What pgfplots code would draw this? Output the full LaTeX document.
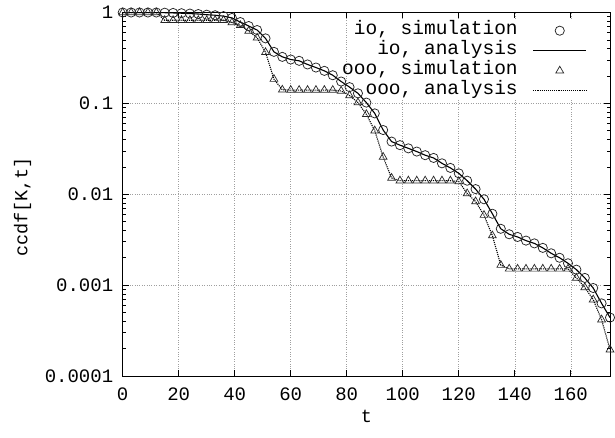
\documentclass[border=0pt]{standalone}
\usepackage{fontspec}
\setmainfont{Liberation Mono}
\usepackage{pgfplots}
\usepackage{pgfplotstable}
\pgfplotsset{compat=1.18}
\pgfplotstableread{
t io ooo
0 1.0 1.0
3 1.0 1.0
6 1.0 1.0
9 1.0 1.0
12 1.0 1.0
15 0.995 0.822
18 0.989 0.822
21 0.982 0.822
24 0.973 0.822
27 0.962 0.822
30 0.946 0.822
33 0.933 0.822
36 0.912 0.822
39 0.871 0.776
42 0.785 0.723
45 0.710 0.625
48 0.641 0.527
51 0.519 0.365
54 0.369 0.185
57 0.325 0.141
60 0.304 0.140
63 0.294 0.140
66 0.268 0.140
69 0.248 0.140
72 0.228 0.140
75 0.204 0.140
78 0.174 0.137
81 0.151 0.122
84 0.129 0.102
87 0.102 0.0759
90 0.0776 0.0501
93 0.0509 0.0257
96 0.0380 0.0151
99 0.0347 0.0141
102 0.0320 0.0141
105 0.0295 0.0141
108 0.0269 0.0141
111 0.0251 0.0141
114 0.0219 0.0141
117 0.0195 0.0141
120 0.0170 0.0138
123 0.0141 0.0102
126 0.0114 0.00832
129 0.00881 0.00589
132 0.00610 0.00351
135 0.00417 0.00166
138 0.00363 0.00151
141 0.00339 0.00151
144 0.00309 0.00151
147 0.00288 0.00151
150 0.00257 0.00151
153 0.00224 0.00151
156 0.00200 0.00151
159 0.00174 0.00151
162 0.00148 0.00120
165 0.00120 0.000944
168 0.00093 0.000692
171 0.00063 0.000417
174 0.00044 0.000195
}\datatable
\begin{document}
\begin{tikzpicture}
\path[use as bounding box] (-122.7pt,-61pt) rectangle (492.3pt,376pt);
\begin{axis}[
  at={(0pt,0pt)}, anchor=south west,
  scale only axis, width=487.3pt, height=363.5pt,
  xmin=0, xmax=174, ymin=1e-4, ymax=1, ymode=log,
  xtick={0,20,...,160},
  ytick={1,0.1,0.01,0.001,0.0001},
  yticklabels={1,0.1,0.01,0.001,0.0001},
  minor ytick={2e-4,3e-4,4e-4,5e-4,6e-4,7e-4,8e-4,9e-4,
    2e-3,3e-3,4e-3,5e-3,6e-3,7e-3,8e-3,9e-3,
    2e-2,3e-2,4e-2,5e-2,6e-2,7e-2,8e-2,9e-2,
    0.2,0.3,0.4,0.5,0.6,0.7,0.8,0.9},
  /pgf/number format/assume math mode=true,
  tick label style={font=\fontsize{19}{21}\selectfont},
  yticklabel style={xshift=-6pt},
  xticklabel style={yshift=-8.5pt},
  label style={font=\fontsize{18.5}{20}\selectfont},
  xlabel={t},
  ylabel={ccdf[K,t]},
  xlabel style={at={(axis description cs:0.5,0)}, anchor=north, yshift=-31pt},
  ylabel style={at={(axis description cs:0,0.465)}, anchor=south, yshift=88pt},
  tick align=inside,
  major tick length=6pt, minor tick length=3.5pt,
  every tick/.style={black, line width=0.6pt},
  axis line style={line width=1pt},
  grid=major,
  grid style={dotted, gray!75, line width=0.55pt},
  legend plot pos=right,
  legend cell align=right,
  legend image code/.code={\draw[mark repeat=2,mark phase=2,#1] plot coordinates {(0pt,0pt) (26.5pt,0pt) (53pt,0pt)};},
  legend style={at={(rel axis cs:1,1)}, anchor=north east, xshift=-20pt, yshift=-6pt,
    draw=none, fill=none, font=\fontsize{19.5}{20}\selectfont,
    nodes={inner sep=0pt, text height=14pt, text depth=6pt},
    /tikz/every odd column/.append style={column sep=15pt}},
]
\fill[white] (axis cs:83,0.83) rectangle (axis cs:171,0.115);
\addplot[only marks, mark=o, mark size=4.6pt, mark options={black!85, line width=0.75pt}] table[x=t,y=io] {\datatable};
\addlegendentry{io, simulation}
\addplot[black, line width=1.1pt, no marks] table[x=t,y=io] {\datatable};
\addlegendentry{io, analysis}
\addplot[only marks, mark=triangle, mark size=4.5pt, mark options={black!85, line width=0.7pt}] table[x=t,y=ooo] {\datatable};
\addlegendentry{ooo, simulation}
\addplot[black, line width=1.1pt, densely dotted, no marks] table[x=t,y=ooo] {\datatable};
\addlegendentry{ooo, analysis}
\end{axis}
\end{tikzpicture}
\end{document}
